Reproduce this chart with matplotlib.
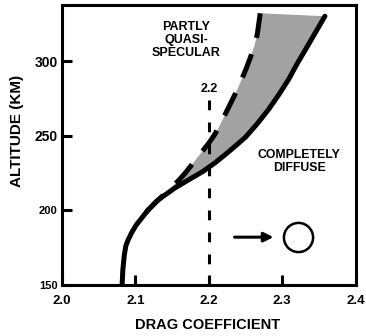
import numpy as np
import matplotlib
matplotlib.use("Agg")
import matplotlib.pyplot as plt

# Completely diffuse curve (solid)
alt_diffuse = [150, 160, 170, 176, 180, 185, 190, 195, 200, 207, 215, 222, 226, 232, 238, 243,
               249, 258, 268, 278, 288, 298, 308, 319, 330]
cd_diffuse = [2.082, 2.083, 2.085, 2.087, 2.090, 2.095, 2.101, 2.109, 2.117, 2.131, 2.154, 2.178,
              2.192, 2.209, 2.224, 2.236, 2.250, 2.266, 2.282, 2.296, 2.309, 2.320, 2.332,
              2.345, 2.358]

# Partly quasi-specular curve (dashed)
alt_specular = [195, 200, 205, 210, 215, 220, 225, 230, 235, 240, 245, 250, 255, 260, 265, 272,
                280, 288, 295, 303, 310, 318, 325, 332]
cd_specular = [2.109, 2.117, 2.127, 2.138, 2.148, 2.159, 2.168, 2.176, 2.184, 2.192, 2.200, 2.207,
               2.213, 2.218, 2.223, 2.230, 2.238, 2.245, 2.251, 2.257, 2.262, 2.266, 2.268, 2.270]

ref_cd = 2.2
ref_top = 274

x_ticks = [2.0, 2.1, 2.2, 2.3, 2.4]
x_labels = ["2.0", "2.1", "2.2", "2.3", "2.4"]
y_ticks = [150, 200, 250, 300]
y_labels = ["150", "200", "250", "300"]

plt.rcParams['font.family'] = ['Liberation Sans', 'DejaVu Sans']

fig = plt.figure(figsize=(3.66, 3.36), dpi=100)
ax = fig.add_axes([0.169, 0.152, 0.803, 0.833])

# shaded band between curves
i0 = alt_diffuse.index(195)
poly_x = list(cd_diffuse[i0:]) + list(cd_specular[::-1])
poly_y = list(alt_diffuse[i0:]) + list(alt_specular[::-1])
ax.fill(poly_x, poly_y, color='#a2a2a2', lw=0, zorder=1)

# reference dashed vertical line
ax.plot([ref_cd, ref_cd], [ref_top, 150], color='black', lw=2.2,
        dashes=(3.2, 4.0), dash_capstyle='butt', zorder=2)
ax.text(ref_cd, ref_top + 3, "2.2", ha='center', va='bottom', fontsize=9, fontweight='bold')

# curves
ax.plot(cd_diffuse, alt_diffuse, color='black', lw=3.6, solid_capstyle='round',
        solid_joinstyle='round', zorder=3)
ax.plot(cd_specular[::-1], alt_specular[::-1], color='black', lw=3.6,
        dashes=(5.0, 3.4), dash_capstyle='butt', zorder=3)

# annotations
ax.text(2.169, 327, "PARTLY\nQUASI-\nSPECULAR", ha='center', va='top', fontsize=9,
        fontweight='bold', linespacing=1.15)
ax.text(2.323, 241, "COMPLETELY\nDIFFUSE", ha='center', va='top', fontsize=8.8,
        fontweight='bold', linespacing=1.15)

ax.annotate("", xy=(2.288, 182), xytext=(2.235, 182),
            arrowprops=dict(arrowstyle='-|>', lw=2.2, color='black', mutation_scale=14,
                            shrinkA=0, shrinkB=0))
ax.plot([2.321], [182], marker='o', ms=21, mfc='white', mec='black', mew=1.8, zorder=4)

ax.set_xlim(2.0, 2.4)
ax.set_ylim(150, 337.5)
ax.set_xticks(x_ticks)
ax.set_xticklabels(x_labels, fontsize=9.5, fontweight='bold')
ax.set_yticks(y_ticks)
ax.set_yticklabels(y_labels, fontweight='bold')
for lab, v in zip(ax.get_yticklabels(), y_ticks):
    lab.set_fontsize(10 if v >= 250 else 8)

ax.tick_params(axis='both', direction='in', length=7, width=2.2)
ax.tick_params(axis='x', pad=7)
ax.tick_params(axis='y', pad=3)
for s in ax.spines.values():
    s.set_linewidth(2.2)

fig.text(0.568, 0.033, "DRAG COEFFICIENT", ha='center', va='center', fontsize=10.5, fontweight='bold')
fig.text(0.046, 0.61, "ALTITUDE (KM)", ha='center', va='center', rotation=90, fontsize=11,
         fontweight='bold')

fig.savefig("out.png", dpi=100)
